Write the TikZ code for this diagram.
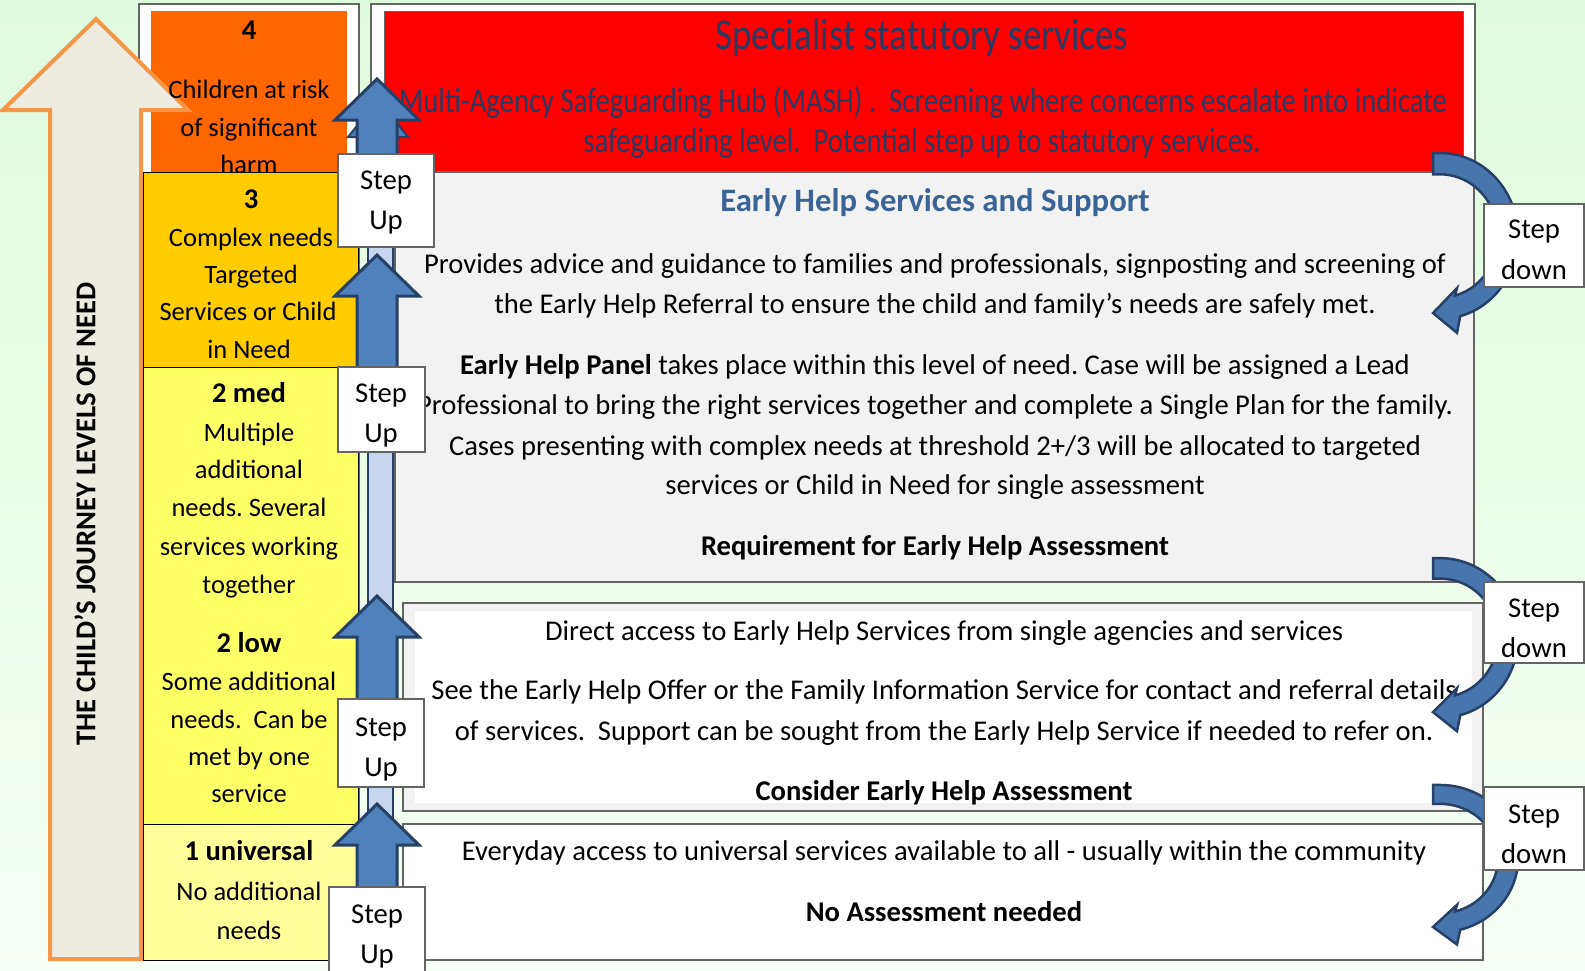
\documentclass[tikz,border=0pt]{standalone}
\usepackage{fontspec}
\usepackage{graphicx}
\setmainfont{Carlito}
\frenchspacing
\definecolor{lvfour}{RGB}{255,102,0}
\definecolor{lvthree}{RGB}{255,204,0}
\definecolor{lvtwo}{RGB}{255,255,102}
\definecolor{lvone}{RGB}{255,255,153}
\definecolor{redbox}{RGB}{255,0,0}
\definecolor{greybox}{RGB}{242,242,242}
\definecolor{navytext}{RGB}{38,58,98}
\definecolor{ehblue}{RGB}{58,99,150}
\definecolor{arrowfill}{RGB}{79,129,189}
\definecolor{arrowmid}{RGB}{72,117,173}
\definecolor{arrowline}{RGB}{38,64,104}
\definecolor{lightbar}{RGB}{198,214,238}
\definecolor{beige}{RGB}{238,236,225}
\definecolor{orangeline}{RGB}{247,150,70}
\definecolor{bgtop}{RGB}{223,251,221}
\definecolor{bgbot}{RGB}{247,255,246}
\definecolor{frameline}{RGB}{100,100,100}
\newcommand\stepuparrow[2]{\filldraw[uparr] (377,#1) -- (419,#1+41) -- (397,#1+41) -- (397,#2) -- (357,#2) -- (357,#1+41) -- (335,#1+41) -- cycle;}
\newcommand\stepdownarrow[3]{%
  \begin{scope}[shift={(1440,#1)}, yscale=#2]
    \filldraw[downarr] (-7,-78) -- (0,-78) arc[start angle=-90, end angle=75, radius=78]
      -- (17,91) -- (-7,72.4) -- (17,49) -- (15.01,56.02)
      arc[start angle=75, end angle=-90, radius=58] -- (-7,-58) -- cycle;
  \end{scope}}
\begin{document}
\begin{tikzpicture}[x=1pt,y=-1pt,
  ltxt/.style={anchor=base, inner sep=0pt, font=\fontsize{26.5}{31}\selectfont},
  lbtxt/.style={anchor=base, inner sep=0pt, font=\bfseries\fontsize{28.6}{34}\selectfont},
  txt/.style={anchor=base, inner sep=0pt, font=\fontsize{28.6}{34}\selectfont},
  btxt/.style={anchor=base, inner sep=0pt, font=\bfseries\fontsize{28.6}{34}\selectfont},
  steptxt/.style={anchor=base, inner sep=0pt, font=\fontsize{28.7}{34}\selectfont},
  redtxt/.style={anchor=base, inner sep=0pt, text=navytext},
  labelbox/.style={draw=frameline, fill=white, line width=1.2pt, inner sep=0pt},
  uparr/.style={fill=arrowfill, draw=arrowline, line width=3pt, line join=miter},
  downarr/.style={fill=arrowmid, draw=arrowline, line width=2.5pt, line join=miter},
  panel/.style={draw=frameline, line width=1.2pt},
  level/.style={draw=black, line width=0.8pt}
]
\useasboundingbox (0,0) rectangle (1585,970);
\shade[top color=bgtop, bottom color=bgbot] (0,0) rectangle (1585,970);

% left column
\filldraw[panel, fill=white] (139,4) rectangle (359,960);
\fill[lvfour] (151,11) rectangle (347,172);
\filldraw[orangeline, line width=4pt, fill=beige, line join=miter]
  (96,19) -- (188,110) -- (141,110) -- (141,959) -- (50,959) -- (50,110) -- (3,110) -- cycle;
\node[lbtxt] (l4n) at (249,39) {4};
\node[ltxt] (l4a) at (249,98) {Children at risk};
\node[ltxt] (l4b) at (249,136) {of significant};
\node[ltxt] (l4c) at (249,173) {harm};

\filldraw[level, fill=lvthree] (143,172) rectangle (358,367);
\node[lbtxt] (l3n) at (251,208) {3};
\node[ltxt] (l3a) at (251,246) {Complex needs};
\node[ltxt] (l3b) at (251,283) {Targeted};
\node[ltxt] (l3c) at (248,320) {Services or Child};
\node[ltxt] (l3d) at (249,358) {in Need};

\filldraw[level, fill=lvtwo] (143,367) rectangle (358,824);
\node[lbtxt] (l2m) at (249,402) {2 med};
\node[ltxt] (l2ma) at (249,441) {Multiple};
\node[ltxt] (l2mb) at (249,478) {additional};
\node[ltxt] (l2mc) at (249,516) {needs. Several};
\node[ltxt] (l2md) at (249,555) {services working};
\node[ltxt] (l2me) at (249,593) {together};
\node[lbtxt] (l2l) at (249,652) {2 low};
\node[ltxt] (l2la) at (249,690) {Some additional};
\node[ltxt] (l2lb) at (249,728) {needs.\ \ Can be};
\node[ltxt] (l2lc) at (249,765) {met by one};
\node[ltxt] (l2ld) at (249,802) {service};

\filldraw[level, fill=lvone] (143,824) rectangle (358,960);
\node[lbtxt] (l1n) at (249,860) {1 universal};
\node[ltxt] (l1a) at (249,900) {No additional};
\node[ltxt] (l1b) at (249,939) {needs};

\node[rotate=90, inner sep=0pt, font=\bfseries\fontsize{28.7}{32}\selectfont] (vtitle) at (85,514) {THE CHILD’S JOURNEY LEVELS OF NEED};

% right panels
\filldraw[panel, fill=white] (371,4) rectangle (1475,172);
\filldraw[panel, fill=redbox, line width=0.8pt] (384,11) rectangle (1463,172);
\node[redtxt, font=\fontsize{44}{52}\selectfont] (rt) at (922,49) {\scalebox{0.84}[1]{Specialist statutory services}};
\node[redtxt, font=\fontsize{35}{42}\selectfont] (rm1) at (923,112) {\scalebox{0.82}[1]{Multi-Agency Safeguarding Hub (MASH) .\ \ Screening where concerns escalate into indicate}};
\node[redtxt, font=\fontsize{35}{42}\selectfont] (rm2) at (922,152) {\scalebox{0.82}[1]{safeguarding level.\ \ Potential step up to statutory services.}};

\filldraw[panel, fill=greybox] (395,172) rectangle (1474,582);
\node[anchor=base, inner sep=0pt, text=ehblue, font=\bfseries\fontsize{32.7}{38}\selectfont] (eht) at (935,211) {Early Help Services and Support};
\node[txt] (eh1) at (935,273) {Provides advice and guidance to families and professionals, signposting and screening of};
\node[txt] (eh2) at (935,313) {the Early Help Referral to ensure the child and family’s needs are safely met.};
\node[txt] (eh3) at (935,374) {\textbf{Early Help Panel} takes place within this level of need. Case will be assigned a Lead};
\node[txt] (eh4) at (935,414) {Professional to bring the right services together and complete a Single Plan for the family.};
\node[txt] (eh5) at (935,455) {Cases presenting with complex needs at threshold 2+/3 will be allocated to targeted};
\node[txt] (eh6) at (935,494) {services or Child in Need for single assessment};
\node[btxt] (eh7) at (935,555) {Requirement for Early Help Assessment};

\filldraw[panel, fill=greybox] (403,603) rectangle (1483,811);
\fill[white] (415,611) rectangle (1472,803);
\node[txt] (da1) at (944,640) {Direct access to Early Help Services from single agencies and services};
\node[txt] (da2) at (944,699) {See the Early Help Offer or the Family Information Service for contact and referral details};
\node[txt] (da3) at (944,740) {of services.\ \ Support can be sought from the Early Help Service if needed to refer on.};
\node[btxt] (da4) at (944,800) {Consider Early Help Assessment};

\filldraw[panel, fill=white] (403,824) rectangle (1483,960);
\node[txt] (un1) at (944,860) {Everyday access to universal services available to all - usually within the community};
\node[btxt] (un2) at (944,921) {No Assessment needed};

% step up column
\filldraw[fill=lightbar, draw=arrowline, line width=2.5pt] (368,240) rectangle (393,830);
\filldraw[uparr, line width=2pt] (378,100) -- (408,137) -- (395,137) -- (395,150) -- (360,150) -- (360,137) -- (348,137) -- cycle;
\stepuparrow{79}{175}
\stepuparrow{255}{380}
\stepuparrow{596}{710}
\stepuparrow{804}{900}

\node[labelbox, minimum width=96, minimum height=93] (su1) at (386,200.5) {};
\node[steptxt] (su1a) at (386,189) {Step};
\node[steptxt] (su1b) at (386,229) {Up};
\node[labelbox, minimum width=87, minimum height=85] (su2) at (381.5,409.5) {};
\node[steptxt] (su2a) at (381,402) {Step};
\node[steptxt] (su2b) at (381,442) {Up};
\node[labelbox, minimum width=86, minimum height=88] (su3) at (381,743) {};
\node[steptxt] (su3a) at (381,736) {Step};
\node[steptxt] (su3b) at (381,776) {Up};
\node[labelbox, minimum width=96, minimum height=98] (su4) at (377,936) {};
\node[steptxt] (su4a) at (377,923) {Step};
\node[steptxt] (su4b) at (377,963) {Up};

% step down
\stepdownarrow{236}{1.064}{}
\stepdownarrow{638}{1.024}{}
\stepdownarrow{858.6}{0.944}{}

\node[labelbox, minimum width=100, minimum height=83] (sd1) at (1534,245.5) {};
\node[steptxt] (sd1a) at (1534,238) {Step};
\node[steptxt] (sd1b) at (1534,279) {down};
\node[labelbox, minimum width=100, minimum height=81] (sd2) at (1534,622.5) {};
\node[steptxt] (sd2a) at (1534,617) {Step};
\node[steptxt] (sd2b) at (1534,657) {down};
\node[labelbox, minimum width=100, minimum height=83] (sd3) at (1534,828.5) {};
\node[steptxt] (sd3a) at (1534,823) {Step};
\node[steptxt] (sd3b) at (1534,863) {down};
\end{tikzpicture}
\end{document}
